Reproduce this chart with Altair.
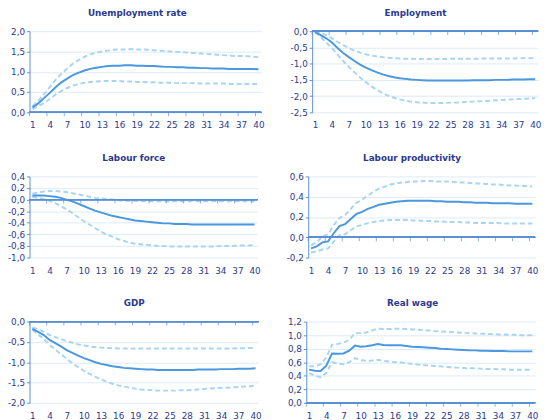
import altair as alt
import pandas as pd

T = list(range(1, 41))
X_LABELS = list(range(1, 41, 3))
X_TICKS = [0.5 + 3 * k for k in range(14)]

# Unemployment rate
unemp_mean = [0.12, 0.22, 0.35, 0.48, 0.62, 0.74, 0.83, 0.92, 0.98, 1.03, 1.07, 1.10, 1.12, 1.14, 1.15, 1.15, 1.16, 1.16, 1.15, 1.15,
              1.14, 1.14, 1.13, 1.12, 1.12, 1.11, 1.11, 1.10, 1.10, 1.09, 1.09, 1.08, 1.08, 1.08, 1.07, 1.07, 1.07, 1.07, 1.07, 1.06]
unemp_up = [0.15, 0.28, 0.45, 0.62, 0.80, 0.95, 1.08, 1.20, 1.29, 1.37, 1.43, 1.47, 1.50, 1.52, 1.54, 1.55, 1.55, 1.56, 1.55, 1.55,
            1.54, 1.53, 1.52, 1.51, 1.50, 1.49, 1.48, 1.47, 1.46, 1.45, 1.44, 1.43, 1.42, 1.41, 1.40, 1.39, 1.39, 1.38, 1.37, 1.36]
unemp_lo = [0.08, 0.15, 0.23, 0.33, 0.44, 0.53, 0.60, 0.66, 0.70, 0.73, 0.75, 0.76, 0.77, 0.77, 0.77, 0.77, 0.76, 0.76, 0.75, 0.75,
            0.74, 0.74, 0.73, 0.73, 0.73, 0.72, 0.72, 0.72, 0.72, 0.71, 0.71, 0.71, 0.71, 0.71, 0.70, 0.70, 0.70, 0.70, 0.70, 0.70]

# Employment
emp_mean = [-0.02, -0.12, -0.22, -0.35, -0.52, -0.67, -0.80, -0.92, -1.03, -1.12, -1.20, -1.27, -1.33, -1.38, -1.42, -1.45, -1.47, -1.49, -1.50, -1.51,
            -1.52, -1.52, -1.52, -1.52, -1.52, -1.52, -1.52, -1.52, -1.51, -1.51, -1.51, -1.51, -1.50, -1.50, -1.50, -1.49, -1.49, -1.49, -1.48, -1.48]
emp_up = [0.00, -0.05, -0.12, -0.22, -0.33, -0.43, -0.52, -0.60, -0.66, -0.71, -0.75, -0.78, -0.80, -0.82, -0.83, -0.84, -0.85, -0.85, -0.86, -0.86,
          -0.86, -0.86, -0.86, -0.86, -0.85, -0.85, -0.85, -0.85, -0.85, -0.85, -0.84, -0.84, -0.84, -0.84, -0.84, -0.84, -0.83, -0.83, -0.83, -0.83]
emp_lo = [-0.03, -0.18, -0.35, -0.52, -0.72, -0.92, -1.10, -1.27, -1.43, -1.57, -1.70, -1.81, -1.91, -1.99, -2.05, -2.10, -2.14, -2.17, -2.19, -2.20,
          -2.21, -2.21, -2.21, -2.21, -2.20, -2.20, -2.19, -2.18, -2.17, -2.16, -2.15, -2.14, -2.13, -2.12, -2.11, -2.10, -2.09, -2.08, -2.07, -2.06]

# Labour force
lf_mean = [0.07, 0.07, 0.07, 0.06, 0.05, 0.03, 0.00, -0.03, -0.07, -0.11, -0.15, -0.19, -0.22, -0.25, -0.28, -0.30, -0.32, -0.34, -0.36, -0.37,
           -0.38, -0.39, -0.40, -0.41, -0.41, -0.42, -0.42, -0.42, -0.43, -0.43, -0.43, -0.43, -0.43, -0.43, -0.43, -0.43, -0.43, -0.43, -0.43, -0.43]
lf_up = [0.10, 0.12, 0.14, 0.15, 0.15, 0.14, 0.13, 0.11, 0.09, 0.07, 0.05, 0.03, 0.02, 0.01, 0.00, -0.01, -0.02, -0.02, -0.02, -0.03,
         -0.03, -0.03, -0.03, -0.03, -0.03, -0.03, -0.03, -0.03, -0.03, -0.03, -0.03, -0.03, -0.03, -0.03, -0.03, -0.03, -0.03, -0.03, -0.03, -0.03]
lf_lo = [0.05, 0.03, 0.01, -0.02, -0.06, -0.11, -0.17, -0.23, -0.30, -0.37, -0.43, -0.49, -0.55, -0.60, -0.64, -0.68, -0.71, -0.74, -0.76, -0.77,
         -0.78, -0.79, -0.80, -0.80, -0.81, -0.81, -0.81, -0.81, -0.81, -0.81, -0.81, -0.81, -0.81, -0.80, -0.80, -0.80, -0.79, -0.79, -0.79, -0.78]

# Labour productivity
lp_mean = [-0.11, -0.09, -0.05, -0.04, 0.04, 0.11, 0.13, 0.18, 0.23, 0.25, 0.28, 0.30, 0.32, 0.33, 0.34, 0.35, 0.355, 0.36, 0.36, 0.36,
           0.36, 0.36, 0.355, 0.355, 0.35, 0.35, 0.35, 0.345, 0.345, 0.34, 0.34, 0.34, 0.335, 0.335, 0.335, 0.335, 0.33, 0.33, 0.33, 0.33]
lp_up = [-0.08, -0.05, 0.01, 0.03, 0.12, 0.19, 0.22, 0.28, 0.34, 0.37, 0.41, 0.45, 0.48, 0.50, 0.52, 0.53, 0.54, 0.545, 0.55, 0.55,
         0.555, 0.555, 0.55, 0.55, 0.55, 0.545, 0.54, 0.54, 0.535, 0.53, 0.53, 0.525, 0.52, 0.52, 0.515, 0.51, 0.51, 0.505, 0.505, 0.50]
lp_lo = [-0.15, -0.14, -0.12, -0.11, -0.04, 0.02, 0.03, 0.07, 0.11, 0.12, 0.14, 0.15, 0.16, 0.165, 0.17, 0.17, 0.17, 0.17, 0.165, 0.165,
         0.16, 0.16, 0.155, 0.155, 0.15, 0.15, 0.15, 0.145, 0.145, 0.14, 0.14, 0.14, 0.14, 0.14, 0.135, 0.135, 0.135, 0.135, 0.135, 0.135]

# GDP
gdp_mean = [-0.18, -0.25, -0.33, -0.45, -0.53, -0.61, -0.70, -0.77, -0.84, -0.90, -0.95, -1.00, -1.04, -1.07, -1.10, -1.12, -1.14, -1.15, -1.16, -1.17,
            -1.18, -1.18, -1.19, -1.19, -1.19, -1.19, -1.19, -1.19, -1.19, -1.18, -1.18, -1.18, -1.18, -1.17, -1.17, -1.17, -1.16, -1.16, -1.16, -1.15]
gdp_up = [-0.14, -0.19, -0.25, -0.33, -0.38, -0.43, -0.48, -0.52, -0.56, -0.59, -0.61, -0.63, -0.64, -0.65, -0.655, -0.66, -0.66, -0.66, -0.66, -0.66,
          -0.66, -0.66, -0.66, -0.66, -0.66, -0.66, -0.66, -0.66, -0.66, -0.66, -0.66, -0.66, -0.66, -0.66, -0.66, -0.66, -0.655, -0.655, -0.65, -0.65]
gdp_lo = [-0.20, -0.32, -0.43, -0.57, -0.69, -0.80, -0.92, -1.03, -1.12, -1.21, -1.29, -1.36, -1.42, -1.48, -1.53, -1.57, -1.60, -1.63, -1.65, -1.67,
          -1.68, -1.69, -1.70, -1.70, -1.70, -1.70, -1.69, -1.69, -1.68, -1.67, -1.66, -1.65, -1.64, -1.63, -1.63, -1.62, -1.61, -1.60, -1.59, -1.58]

# Real wage
rw_mean = [0.49, 0.475, 0.47, 0.55, 0.73, 0.725, 0.73, 0.77, 0.845, 0.83, 0.835, 0.85, 0.87, 0.855, 0.85, 0.85, 0.85, 0.84, 0.83, 0.825,
           0.82, 0.815, 0.81, 0.80, 0.795, 0.79, 0.785, 0.78, 0.775, 0.775, 0.77, 0.77, 0.765, 0.765, 0.765, 0.76, 0.76, 0.76, 0.76, 0.76]
rw_up = [0.54, 0.54, 0.57, 0.67, 0.86, 0.87, 0.89, 0.93, 1.03, 1.03, 1.04, 1.07, 1.095, 1.09, 1.09, 1.095, 1.095, 1.09, 1.085, 1.08,
         1.075, 1.07, 1.06, 1.055, 1.05, 1.045, 1.04, 1.035, 1.03, 1.025, 1.02, 1.02, 1.015, 1.01, 1.01, 1.005, 1.005, 1.0, 1.0, 1.0]
rw_lo = [0.44, 0.40, 0.38, 0.44, 0.60, 0.58, 0.57, 0.60, 0.66, 0.63, 0.62, 0.625, 0.635, 0.62, 0.61, 0.60, 0.595, 0.585, 0.575, 0.565,
         0.56, 0.55, 0.545, 0.54, 0.53, 0.525, 0.52, 0.515, 0.51, 0.51, 0.505, 0.50, 0.50, 0.495, 0.495, 0.49, 0.49, 0.49, 0.49, 0.49]

DARK = "#2b3a8f"
AXIS = "#5a8fd4"
GRID = "#dcebf7"
MAIN = "#4a98de"
BAND = "#a9d5f2"
FONT = "DejaVu Sans"

LABEL_EXPR = "(datum.value < -0.0001 ? '-' : '') + replace(format(abs(datum.value), '.1f'), '.', ',')"


def panel(title, mean, up, lo, ymin, ymax, step, width):
    n = int(round((ymax - ymin) / step))
    yvals = [round(ymin + i * step, 2) for i in range(n + 1)]
    xs = alt.Scale(domain=[0.5, 40.5], nice=False, zero=False)
    ys = alt.Scale(domain=[ymin, ymax], nice=False, zero=False)
    xa = alt.Axis(values=X_LABELS, grid=False, domain=False, ticks=False, labelPadding=9,
                  labelFontSize=9, labelColor=DARK, labelFont=FONT, title=None, labelFlush=False)
    ya = alt.Axis(values=yvals, labelExpr=LABEL_EXPR, grid=True, gridColor=GRID, domainColor=AXIS,
                  tickColor=AXIS, tickSize=3, labelPadding=2, labelFontSize=9, labelColor=DARK,
                  labelFont=FONT, title=None)
    X = alt.X("t:Q", scale=xs, axis=xa)
    Y = alt.Y("value:Q", scale=ys, axis=ya)
    bands = pd.DataFrame({"t": T + T, "value": up + lo, "series": ["upper"] * 40 + ["lower"] * 40})
    main = pd.DataFrame({"t": T, "value": mean})
    zero = pd.DataFrame({"t": X_TICKS, "value": [0.0] * len(X_TICKS)})
    l1 = alt.Chart(bands).mark_line(strokeDash=[5, 3], strokeWidth=2, color=BAND).encode(x=X, y=Y, detail="series:N")
    l2 = alt.Chart(main).mark_line(strokeWidth=2, color=MAIN).encode(x=X, y=Y)
    l3 = alt.Chart(zero).mark_rule(color=AXIS, strokeWidth=1).encode(y=Y)
    l4 = alt.Chart(zero).mark_tick(orient="vertical", size=4, thickness=1, yOffset=2, color=AXIS).encode(x=X, y=Y)
    return alt.layer(l1, l2, l3, l4).properties(
        width=width, height=83,
        title=alt.TitleParams(title, fontSize=9, font=FONT, fontWeight="bold", color=DARK, offset=10, frame="bounds"),
    )


p1 = panel("Unemployment rate", unemp_mean, unemp_up, unemp_lo, 0.0, 2.0, 0.5, 237)
p2 = panel("Employment", emp_mean, emp_up, emp_lo, -2.5, 0.0, 0.5, 231)
p3 = panel("Labour force", lf_mean, lf_up, lf_lo, -1.0, 0.4, 0.2, 233)
p4 = panel("Labour productivity", lp_mean, lp_up, lp_lo, -0.2, 0.6, 0.2, 232)
p5 = panel("GDP", gdp_mean, gdp_up, gdp_lo, -2.0, 0.0, 0.5, 234)
p6 = panel("Real wage", rw_mean, rw_up, rw_lo, 0.0, 1.2, 0.2, 234)

chart = alt.vconcat(
    alt.hconcat(p1, p2, spacing=26),
    alt.hconcat(p3, p4, spacing=26),
    alt.hconcat(p5, p6, spacing=26),
    spacing=24.5,
).configure(padding={"top": -4, "left": -1, "right": 0, "bottom": 0}, background="white").configure_view(stroke=None)

chart.save("out.html", embed_options={"renderer": "svg", "actions": False})
